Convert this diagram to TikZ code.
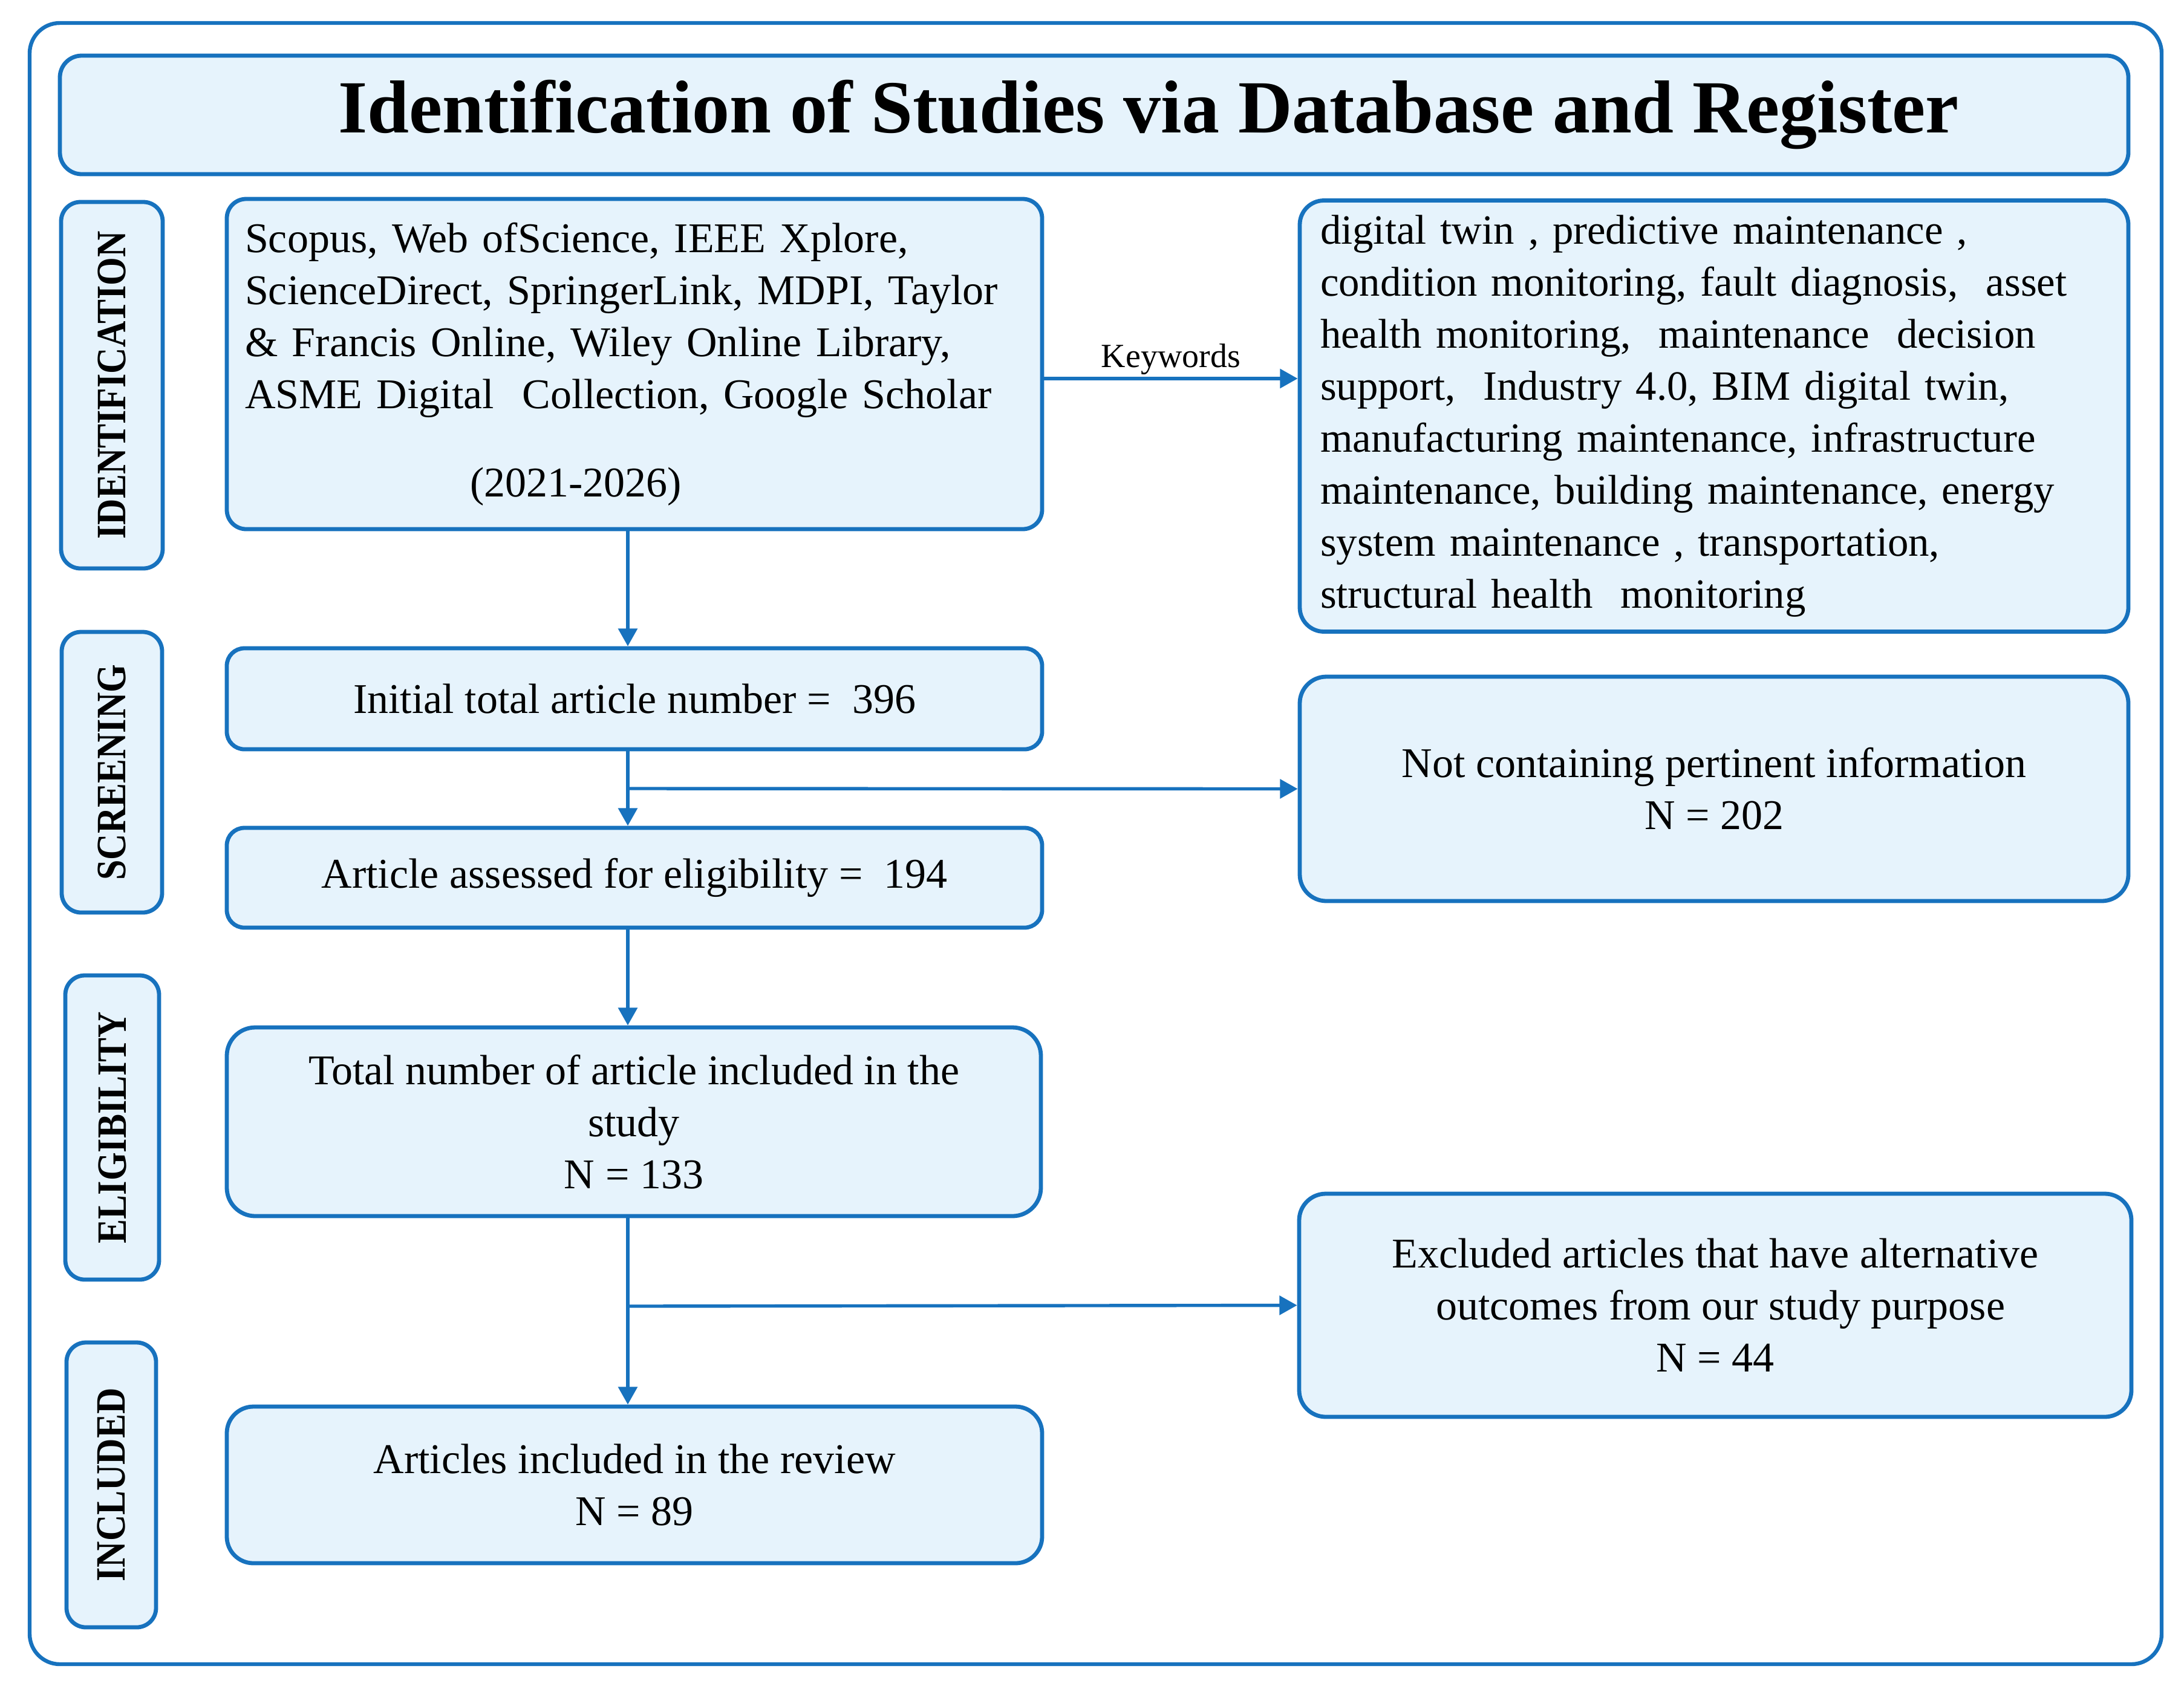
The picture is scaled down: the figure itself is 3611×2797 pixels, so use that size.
\documentclass[tikz,border=0pt]{standalone}
\usepackage{fontspec}
\setmainfont{Liberation Serif}
\usetikzlibrary{arrows.meta}
\definecolor{bord}{RGB}{23,114,190}
\definecolor{boxfill}{RGB}{230,243,252}
\begin{document}
\begin{tikzpicture}[x=0.25pt,y=-0.25pt,
  box/.style={draw=bord, fill=boxfill, line width=1.7pt, rounded corners=#1,
    inner sep=1pt, font=\fontsize{17.5}{21.5}\selectfont, align=center},
  box/.default=7.25pt,
  kwtext/.style={font=\fontsize{17.2}{21.5}\selectfont},
  lab/.style={draw=bord, fill=boxfill, line width=1.7pt, rounded corners=8pt,
    inner sep=0pt, rotate=90, font=\fontsize{17.25}{20}\selectfont\bfseries},
  arr/.style={draw=bord, line width=1.35pt, -{Triangle[length=7.3pt,width=7.8pt]}}
]
\useasboundingbox (0,0) rectangle (3611,2797);

% outer frame
\node[draw=bord, line width=1.6pt, rounded corners=12.5pt, minimum width=881.25pt,
      minimum height=678.5pt, inner sep=0pt] (frame) at (1811.5,1395) {};

% title
\node[box=9pt, minimum width=855pt, minimum height=49pt,
      font=\fontsize{31}{37}\selectfont\bfseries] (title) at (1809,190)
      {\hspace*{45pt}Identification of Studies via Database and Register};

% phase labels
\node[lab, minimum width=151.5pt, minimum height=42pt] (idlab) at (185,637)
      {\scalebox{0.87}[1]{IDENTIFICATION}};
\node[lab, minimum width=116pt, minimum height=41.5pt] (scrlab) at (185,1277)
      {\scalebox{0.87}[1]{SCREENING}};
\node[lab, minimum width=125.75pt, minimum height=38.75pt] (elilab) at (185.5,1864.5)
      {\scalebox{0.87}[1]{ELIGIBILITY}};
\node[lab, minimum width=117.75pt, minimum height=37pt] (inclab) at (184,2455.5)
      {\scalebox{0.87}[1]{INCLUDED}};

% left column
\node[box=8pt, minimum height=136.5pt, text width=322pt, inner xsep=7.5pt, align=left]
      (src) at (1049,602)
      {Scopus, Web ofScience, IEEE Xplore,\\
       ScienceDirect, SpringerLink, MDPI, Taylor\\
       \&~Francis Online, Wiley Online Library,\\
       ASME Digital~ Collection, Google Scholar\\[14.9pt]
       \hspace*{93pt}(2021-2026)};

\node[box, minimum width=337pt, minimum height=41.75pt] (init) at (1049,1155.5)
      {Initial total article number = \ 396};
\node[box, minimum width=337pt, minimum height=41.25pt] (assess) at (1049,1451.5)
      {Article assessed for eligibility = \ 194};
\node[box=11.75pt, minimum width=336.5pt, minimum height=78pt] (total) at (1048,1855)
      {Total number of article included in the\\ study\\ N = 133};
\node[box=11pt, minimum width=337pt, minimum height=64.75pt] (incl) at (1049,2455.5)
      {Articles included in the review\\ N = 89};

% right column
\node[box=10pt, kwtext, minimum height=178.25pt, text width=325.5pt, inner xsep=8.5pt, align=left]
      (kw) at (2834,688)
      {digital twin , predictive maintenance ,\\
       condition monitoring, fault diagnosis,~ asset\\
       health monitoring,~ maintenance~ decision\\
       support,~ Industry 4.0, BIM digital twin,\\
       manufacturing maintenance, infrastructure\\
       maintenance, building maintenance, energy\\
       system maintenance , transportation,\\
       structural health~ monitoring};
\node[box=11pt, minimum width=342.5pt, minimum height=92.75pt] (notc) at (2834,1304.5)
      {Not containing pertinent information\\ N = 202};
\node[box=11pt, minimum width=344pt, minimum height=92.25pt] (excl) at (2836,2158.5)
      {Excluded articles that have alternative\\ \ outcomes from our study purpose\\ N = 44};

% connectors
\coordinate (col) at (1038,0);
\coordinate (ky) at (0,626);
\coordinate (j1) at (1038,1304);
\coordinate (j2) at (1038,2160);

\draw[arr] (src.east |- ky) -- (kw.west |- ky)
  node[midway, above, inner sep=0pt, yshift=1pt, text=black,
       font=\fontsize{14}{16}\selectfont] (kwlab) {Keywords};
\draw[arr] (src.south -| col) -- (init.north -| col);
\draw[arr] (init.south -| col) -- (assess.north -| col);
\draw[arr] (j1) -- (notc.west);
\draw[arr] (assess.south -| col) -- (total.north -| col);
\draw[arr] (total.south -| col) -- (incl.north -| col);
\draw[arr] (j2) -- (excl.west);
\end{tikzpicture}
\end{document}
